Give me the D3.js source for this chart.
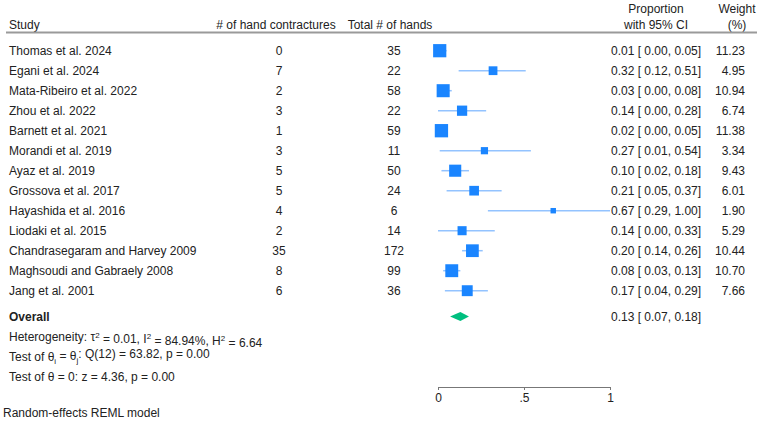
<!DOCTYPE html>
<html><head><meta charset="utf-8">
<script src="https://cdn.jsdelivr.net/npm/d3@7"></script>
<style>
body{margin:0;background:#fff;}
svg{display:block;font-family:"Liberation Sans",Arial,Helvetica,sans-serif;}
</style></head>
<body><svg id="c" width="760" height="432"></svg>
<script>
const studies = ["Thomas et al. 2024","Egani et al. 2024","Mata-Ribeiro et al. 2022","Zhou et al. 2022","Barnett et al. 2021","Morandi et al. 2019","Ayaz et al. 2019","Grossova et al. 2017","Hayashida et al. 2016","Liodaki et al. 2015","Chandrasegaram and Harvey 2009","Maghsoudi and Gabraely 2008","Jang et al. 2001"];
const contractures = [0,7,2,3,1,3,5,5,4,2,35,8,6];
const totals = [35,22,58,22,59,11,50,24,6,14,172,99,36];
const props = [0.01,0.32,0.03,0.14,0.02,0.27,0.10,0.21,0.67,0.14,0.20,0.08,0.17];
const lows = [0.00,0.12,0.00,0.00,0.00,0.01,0.02,0.05,0.29,0.00,0.14,0.03,0.04];
const highs = [0.05,0.51,0.08,0.28,0.05,0.54,0.18,0.37,1.00,0.33,0.26,0.13,0.29];
const weights = [11.23,4.95,10.94,6.74,11.38,3.34,9.43,6.01,1.90,5.29,10.44,10.70,7.66];
const overall = {est:0.13, lo:0.07, hi:0.18};
const axisTicks = [0, 0.5, 1];
const axisTickLabels = ["0", ".5", "1"];

const svg = d3.select("#c");
const fs = 12;
const txt = "#222";
const x = d3.scaleLinear().domain([0,1]).range([438,610]);
const y = d3.scaleLinear().domain([0, studies.length-1]).range([50.7, 290.7]);
const size = d3.scaleSqrt().domain([0, d3.max(weights)]).range([0, 13.3]);
const fmt = d3.format(".2f");

function t(xp, yp, s, anchor, weight){
  return svg.append("text").attr("x",xp).attr("y",yp).attr("dy","0.35em")
    .attr("text-anchor",anchor||"start").attr("font-size",fs).attr("fill",txt)
    .attr("font-weight",weight||"normal").text(s);
}

// headers
t(9, 25, "Study");
t(276, 25, "# of hand contractures", "middle");
t(390, 25, "Total # of hands", "middle");
t(656, 8.5, "Proportion", "middle");
t(656, 25, "with 95% CI", "middle");
t(737, 8.5, "Weight", "middle");
t(737, 25, "(%)", "middle");
svg.append("line").attr("x1",6).attr("x2",757).attr("y1",32.5).attr("y2",32.5)
  .attr("stroke","#9a9a9a").attr("stroke-width",1.8);

// rows
studies.forEach((s,i)=>{
  const yy = y(i);
  t(9, yy, s);
  t(279, yy, contractures[i], "middle");
  t(394, yy, totals[i], "middle");
  t(611, yy, `${fmt(props[i])} [ ${fmt(lows[i])}, ${fmt(highs[i])}]`).attr("xml:space","preserve");
  t(745, yy, fmt(weights[i]), "end");
});

const g = svg.append("g");
g.selectAll("line.ci").data(studies).join("line").attr("class","ci")
  .attr("x1",(d,i)=>x(lows[i])).attr("x2",(d,i)=>x(highs[i]))
  .attr("y1",(d,i)=>y(i)).attr("y2",(d,i)=>y(i))
  .attr("stroke","#93c3ff").attr("stroke-width",1.5);
g.selectAll("rect.m").data(studies).join("rect").attr("class","m")
  .attr("x",(d,i)=>x(props[i]) - size(weights[i])/2)
  .attr("y",(d,i)=>y(i) - size(weights[i])/2)
  .attr("width",(d,i)=>size(weights[i])).attr("height",(d,i)=>size(weights[i]))
  .attr("fill","#1a85ff");

// overall
const yo = 316.5;
t(9, yo, "Overall", "start", "bold");
t(611, yo, `${fmt(overall.est)} [ ${fmt(overall.lo)}, ${fmt(overall.hi)}]`).attr("xml:space","preserve");
svg.append("path")
  .attr("d", `M${x(overall.lo)},${yo} L${x(overall.est)},${yo-4.5} L${x(overall.hi)},${yo} L${x(overall.est)},${yo+4.5} Z`)
  .attr("fill","#00bf7f");

// stats text
const h = t(9, 337, "");
h.append("tspan").text("Heterogeneity: τ");
h.append("tspan").attr("font-size",8).attr("dy","-0.45em").text("2");
h.append("tspan").attr("dy","0.45em").text(" = 0.01, I");
h.append("tspan").attr("font-size",8).attr("dy","-0.45em").text("2");
h.append("tspan").attr("dy","0.45em").text(" = 84.94%, H");
h.append("tspan").attr("font-size",8).attr("dy","-0.45em").text("2");
h.append("tspan").attr("dy","0.45em").text(" = 6.64");
const q = t(9, 357, "");
q.append("tspan").text("Test of θ");
q.append("tspan").attr("font-size",8).attr("dy","0.35em").text("i");
q.append("tspan").attr("dy","-0.35em").text(" = θ");
q.append("tspan").attr("font-size",8).attr("dy","0.35em").text("j");
q.append("tspan").attr("dy","-0.35em").text(": Q(12) = 63.82, p = 0.00");
t(9, 377, "Test of θ = 0: z = 4.36, p = 0.00");
t(3, 413, "Random-effects REML model");

// axis
const ax = svg.append("g").attr("transform","translate(0,387)")
  .call(d3.axisBottom(x).tickValues(axisTicks).tickFormat((d,i)=>axisTickLabels[i]).tickSize(3).tickSizeOuter(0));
ax.select(".domain").attr("stroke","#777").attr("stroke-width",1.2);
ax.selectAll(".tick line").attr("stroke","#777");
ax.selectAll(".tick text").attr("font-size",fs).attr("fill",txt).attr("font-family","Liberation Sans, Arial, sans-serif").attr("dy","0.71em");
</script></body></html>
